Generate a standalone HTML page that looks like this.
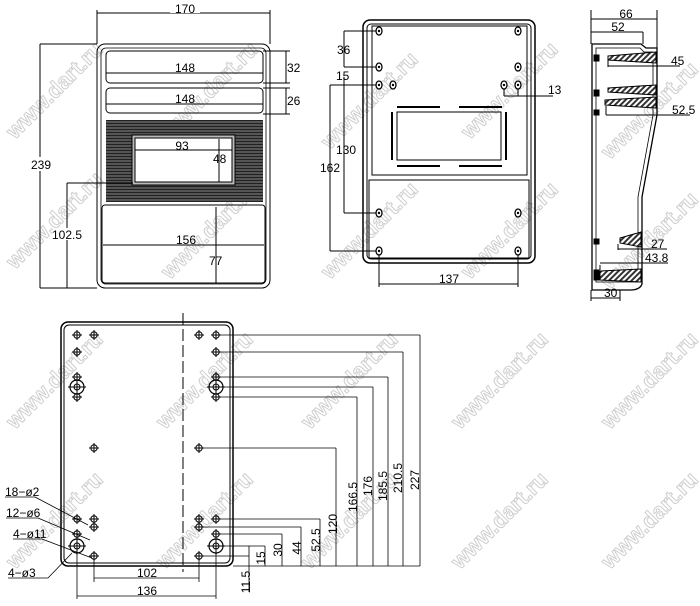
<!DOCTYPE html>
<html><head><style>
html,body{margin:0;padding:0;background:#fff;}
svg{display:block;}
text{font-family:"Liberation Sans",sans-serif;font-size:12px;fill:#000;}
.wm{font-family:"Liberation Sans",sans-serif;font-size:22px;font-weight:bold;fill:none;stroke:#cfcfcf;stroke-width:1;}
</style></head><body>
<svg width="700" height="606" viewBox="0 0 700 606" xmlns="http://www.w3.org/2000/svg">
<defs>
<pattern id="hat" width="3" height="3" patternUnits="userSpaceOnUse"><rect width="3" height="3" fill="#555"/><rect width="3" height="1" fill="#222"/></pattern>
<pattern id="hat2" width="4" height="4" patternUnits="userSpaceOnUse" patternTransform="rotate(45)"><rect width="4" height="4" fill="#fff"/><rect width="2" height="4" fill="#333"/></pattern>
<g id="h"><circle r="3.2" fill="none" stroke="#000" stroke-width="1"/><line x1="-5" y1="0" x2="5" y2="0" stroke="#000"/><line x1="0" y1="-5" x2="0" y2="5" stroke="#000"/></g>
<g id="H"><circle r="7" fill="none" stroke="#000" stroke-width="1.2"/><circle r="3" fill="none" stroke="#000"/><line x1="-9" y1="0" x2="9" y2="0" stroke="#000"/><line x1="0" y1="-9" x2="0" y2="9" stroke="#000"/></g>
<g id="s"><ellipse rx="3" ry="4" fill="#fff" stroke="#000" stroke-width="1.3"/><circle r="1.2" fill="#000"/></g>
</defs>
<g>
<text class="wm" transform="translate(15,140) rotate(-45)">www.dart.ru</text>
<text class="wm" transform="translate(170,140) rotate(-45)">www.dart.ru</text>
<text class="wm" transform="translate(15,270) rotate(-45)">www.dart.ru</text>
<text class="wm" transform="translate(170,280) rotate(-45)">www.dart.ru</text>
<text class="wm" transform="translate(330,150) rotate(-45)">www.dart.ru</text>
<text class="wm" transform="translate(470,140) rotate(-45)">www.dart.ru</text>
<text class="wm" transform="translate(330,280) rotate(-45)">www.dart.ru</text>
<text class="wm" transform="translate(470,280) rotate(-45)">www.dart.ru</text>
<text class="wm" transform="translate(610,160) rotate(-45)">www.dart.ru</text>
<text class="wm" transform="translate(610,290) rotate(-45)">www.dart.ru</text>
<text class="wm" transform="translate(15,430) rotate(-45)">www.dart.ru</text>
<text class="wm" transform="translate(165,430) rotate(-45)">www.dart.ru</text>
<text class="wm" transform="translate(310,430) rotate(-45)">www.dart.ru</text>
<text class="wm" transform="translate(460,430) rotate(-45)">www.dart.ru</text>
<text class="wm" transform="translate(610,430) rotate(-45)">www.dart.ru</text>
<text class="wm" transform="translate(15,570) rotate(-45)">www.dart.ru</text>
<text class="wm" transform="translate(165,570) rotate(-45)">www.dart.ru</text>
<text class="wm" transform="translate(310,570) rotate(-45)">www.dart.ru</text>
<text class="wm" transform="translate(460,570) rotate(-45)">www.dart.ru</text>
<text class="wm" transform="translate(610,570) rotate(-45)">www.dart.ru</text>
</g>
<g stroke="#000" stroke-width="1" fill="none">
<rect x="97" y="44" width="173" height="244" rx="8"/>
<rect x="101" y="48" width="165" height="236" rx="5" stroke-width="0.8"/>
<line x1="97" y1="10" x2="97" y2="44"/><line x1="270" y1="10" x2="270" y2="44"/>
<line x1="97" y1="13" x2="270" y2="13"/>
<line x1="40" y1="44" x2="97" y2="44"/><line x1="40" y1="44" x2="40" y2="288"/><line x1="40" y1="288" x2="97" y2="288"/>
<rect x="106" y="51" width="157" height="32" rx="4"/>
<line x1="106" y1="73" x2="263" y2="73"/>
<rect x="106" y="88" width="157" height="25" rx="4"/>
<line x1="106" y1="104" x2="263" y2="104"/>
<line x1="263" y1="51" x2="290" y2="51"/><line x1="263" y1="83" x2="290" y2="83"/><line x1="286" y1="51" x2="286" y2="83"/>
<line x1="263" y1="88" x2="290" y2="88"/><line x1="263" y1="114" x2="290" y2="114"/><line x1="286" y1="88" x2="286" y2="114"/>
<rect x="106" y="120" width="157" height="82" fill="url(#hat)" stroke="none"/>
<rect x="132" y="135" width="103" height="50" fill="#bbb" stroke="#000"/>
<rect x="135" y="138" width="97" height="44" fill="#fff"/>
<line x1="135" y1="150" x2="232" y2="150"/>
<line x1="219" y1="139" x2="219" y2="182"/>
<line x1="67" y1="183" x2="133" y2="183"/><line x1="67" y1="183" x2="67" y2="288"/>
<rect x="102" y="205" width="163" height="78" rx="3"/>
<line x1="103" y1="245" x2="264" y2="245"/>
<line x1="216" y1="207" x2="216" y2="283"/>
<rect x="363" y="20" width="172" height="243" rx="7" stroke-width="1.5"/>
<rect x="367" y="24" width="164" height="235" rx="4"/>
<rect x="372" y="26" width="155" height="149"/>
<rect x="369" y="180" width="160" height="78"/>
<rect x="397" y="112" width="104" height="48"/>
<g stroke-width="2"><line x1="397" y1="107" x2="440" y2="107"/><line x1="459" y1="107" x2="502" y2="107"/>
<line x1="397" y1="166" x2="440" y2="166"/><line x1="459" y1="166" x2="502" y2="166"/>
<line x1="392" y1="112" x2="392" y2="160"/><line x1="506" y1="112" x2="506" y2="160"/></g>
<line x1="344" y1="31" x2="379" y2="31"/><line x1="344" y1="31" x2="344" y2="67"/>
<line x1="344" y1="67" x2="379" y2="67"/>
<line x1="344" y1="77" x2="344" y2="213"/><line x1="344" y1="213" x2="379" y2="213"/>
<line x1="330" y1="85" x2="379" y2="85"/><line x1="330" y1="85" x2="330" y2="251"/><line x1="330" y1="251" x2="379" y2="251"/>
<line x1="379" y1="251" x2="379" y2="287"/><line x1="518" y1="251" x2="518" y2="287"/><line x1="379" y1="284" x2="518" y2="284"/>
<line x1="504" y1="85" x2="504" y2="96"/><line x1="518" y1="85" x2="518" y2="96"/><line x1="504" y1="96" x2="553" y2="96"/>
<line x1="591" y1="10" x2="591" y2="44"/><line x1="657" y1="10" x2="657" y2="48"/><line x1="591" y1="19" x2="657" y2="19"/>
<line x1="591" y1="32" x2="643" y2="32"/><line x1="643" y1="32" x2="643" y2="44"/>
<path d="M592,44 L641,44 L646,48 L657,48 L657,115 L642,197 L642,284 Q640,290 630,290 L592,290 Z" stroke-width="1.3"/>
<path d="M596,48 L640,48 L644,52 L653,52 L653,115 L638,197 L638,282 L596,282 Z" stroke-width="0.8"/>
<path d="M608,56 L656,52 L656,63 L608,60 Z" fill="url(#hat2)"/>
<path d="M608,88 L656,85 L656,95 L608,92 Z" fill="url(#hat2)"/>
<path d="M605,100 L656,97 L656,108 L605,105 Z" fill="url(#hat2)"/>
<path d="M620,238 L641,232 L641,247 L620,243 Z" fill="url(#hat2)"/>
<path d="M600,271 L641,269 L641,282 L600,280 Z" fill="url(#hat2)"/>
<line x1="608" y1="60" x2="608" y2="67"/><line x1="608" y1="66" x2="680" y2="66"/>
<line x1="606" y1="106" x2="606" y2="115"/><line x1="606" y1="115" x2="690" y2="115"/>
<line x1="618" y1="244" x2="618" y2="250"/><line x1="618" y1="249" x2="667" y2="249"/>
<line x1="600" y1="265" x2="600" y2="270"/><line x1="600" y1="263" x2="668" y2="263"/>
<line x1="591" y1="290" x2="591" y2="301"/><line x1="620" y1="290" x2="620" y2="301"/><line x1="591" y1="298" x2="620" y2="298"/>
<g fill="#000"><rect x="594" y="55" width="5" height="6"/><rect x="594" y="90" width="5" height="6"/><rect x="594" y="110" width="5" height="5"/><rect x="594" y="239" width="5" height="5"/><rect x="594" y="270" width="5" height="10"/></g>
<rect x="61" y="322" width="172" height="244" rx="7" stroke-width="1.5"/>
<rect x="64" y="325" width="166" height="238" rx="5"/>
<line x1="183" y1="313" x2="183" y2="572" stroke-dasharray="12,4"/>
<g stroke-width="0.8">
<line x1="216" y1="335" x2="420" y2="335"/><line x1="420" y1="335" x2="420" y2="566"/>
<line x1="216" y1="352" x2="403" y2="352"/><line x1="403" y1="352" x2="403" y2="566"/>
<line x1="216" y1="377" x2="388" y2="377"/><line x1="388" y1="377" x2="388" y2="566"/>
<line x1="216" y1="387" x2="373" y2="387"/><line x1="373" y1="387" x2="373" y2="566"/>
<line x1="216" y1="397" x2="357" y2="397"/><line x1="357" y1="397" x2="357" y2="566"/>
<line x1="199" y1="448" x2="336" y2="448"/><line x1="336" y1="448" x2="336" y2="566"/>
<line x1="216" y1="519" x2="320" y2="519"/><line x1="320" y1="519" x2="320" y2="566"/>
<line x1="199" y1="527" x2="301" y2="527"/><line x1="301" y1="527" x2="301" y2="566"/>
<line x1="216" y1="534" x2="282" y2="534"/><line x1="282" y1="534" x2="282" y2="566"/>
<line x1="216" y1="546" x2="265" y2="546"/><line x1="265" y1="546" x2="265" y2="566"/>
<line x1="199" y1="556" x2="249" y2="556"/><line x1="249" y1="546" x2="249" y2="592"/>
<line x1="233" y1="566" x2="420" y2="566"/>
<line x1="94" y1="556" x2="94" y2="582"/><line x1="199" y1="556" x2="199" y2="582"/><line x1="94" y1="578" x2="199" y2="578"/>
<line x1="77" y1="546" x2="77" y2="599"/><line x1="216" y1="546" x2="216" y2="599"/><line x1="77" y1="596" x2="216" y2="596"/>
<line x1="5" y1="497" x2="35" y2="497"/><line x1="35" y1="497" x2="88" y2="525"/>
<line x1="6" y1="518" x2="38" y2="518"/><line x1="38" y1="518" x2="90" y2="540"/>
<line x1="13" y1="539" x2="42" y2="539"/><line x1="42" y1="539" x2="92" y2="558"/>
<line x1="8" y1="578" x2="48" y2="578"/><line x1="48" y1="578" x2="72" y2="553"/>
</g>
</g>
<g>
<use href="#s" x="379" y="31"/><use href="#s" x="518" y="31"/>
<use href="#s" x="379" y="67"/><use href="#s" x="518" y="67"/>
<use href="#s" x="379" y="85"/><use href="#s" x="393" y="85"/><use href="#s" x="504" y="85"/><use href="#s" x="518" y="85"/>
<use href="#s" x="379" y="213"/><use href="#s" x="518" y="213"/>
<use href="#s" x="379" y="251"/><use href="#s" x="518" y="251"/>
</g>
<g>
<use href="#h" x="77" y="335"/><use href="#h" x="94" y="335"/><use href="#h" x="199" y="335"/><use href="#h" x="216" y="335"/>
<use href="#h" x="77" y="352"/><use href="#h" x="216" y="352"/>
<use href="#h" x="77" y="377"/><use href="#h" x="216" y="377"/>
<use href="#H" x="77" y="387"/><use href="#H" x="216" y="387"/>
<use href="#h" x="77" y="397"/><use href="#h" x="216" y="397"/>
<use href="#h" x="94" y="448"/><use href="#h" x="199" y="448"/>
<use href="#h" x="77" y="519"/><use href="#h" x="94" y="519"/><use href="#h" x="199" y="519"/><use href="#h" x="216" y="519"/>
<use href="#h" x="94" y="527"/><use href="#h" x="199" y="527"/>
<use href="#h" x="77" y="534"/><use href="#h" x="216" y="534"/>
<use href="#H" x="77" y="546"/><use href="#H" x="216" y="546"/>
<use href="#h" x="94" y="556"/><use href="#h" x="199" y="556"/>
</g>
<g>
<rect x="170" y="3" width="30" height="10" fill="#fff"/>
<text x="185" y="13" text-anchor="middle">170</text>
<rect x="29" y="157" width="24" height="14" fill="#fff"/>
<text x="41" y="169" text-anchor="middle">239</text>
<text x="185" y="72" text-anchor="middle">148</text>
<text x="185" y="103" text-anchor="middle">148</text>
<text x="287" y="72">32</text>
<text x="287" y="105">26</text>
<text x="182" y="150" text-anchor="middle">93</text>
<text x="213" y="163">48</text>
<rect x="53" y="228" width="28" height="12" fill="#fff"/>
<text x="67" y="239" text-anchor="middle">102.5</text>
<text x="186" y="244" text-anchor="middle">156</text>
<text x="209" y="265">77</text>
<text x="337" y="54">36</text>
<text x="336" y="80">15</text>
<text x="336" y="154">130</text>
<text x="320" y="172">162</text>
<text x="548" y="94">13</text>
<text x="449" y="283" text-anchor="middle">137</text>
<text x="626" y="18" text-anchor="middle">66</text>
<text x="618" y="31" text-anchor="middle">52</text>
<text x="671" y="65">45</text>
<text x="672" y="114">52.5</text>
<text x="651" y="248">27</text>
<text x="645" y="262">43.8</text>
<text x="604" y="297">30</text>
<text x="5" y="496">18−ø2</text>
<text x="6" y="517">12−ø6</text>
<text x="13" y="538">4−ø11</text>
<text x="8" y="577">4−ø3</text>
<text x="147" y="577" text-anchor="middle">102</text>
<text x="147" y="595" text-anchor="middle">136</text>
<g text-anchor="middle">
<text transform="translate(357,497) rotate(-90)">166.5</text>
<text transform="translate(372,486) rotate(-90)">176</text>
<text transform="translate(387,486) rotate(-90)">185.5</text>
<text transform="translate(402,478) rotate(-90)">210.5</text>
<text transform="translate(419,480) rotate(-90)">227</text>
<text transform="translate(337,524) rotate(-90)">120</text>
<text transform="translate(320,540) rotate(-90)">52.5</text>
<text transform="translate(301,548) rotate(-90)">44</text>
<text transform="translate(282,550) rotate(-90)">30</text>
<text transform="translate(265,558) rotate(-90)">15</text>
<text transform="translate(250,582) rotate(-90)">11.5</text>
</g>
</g>
</svg>
</body></html>
